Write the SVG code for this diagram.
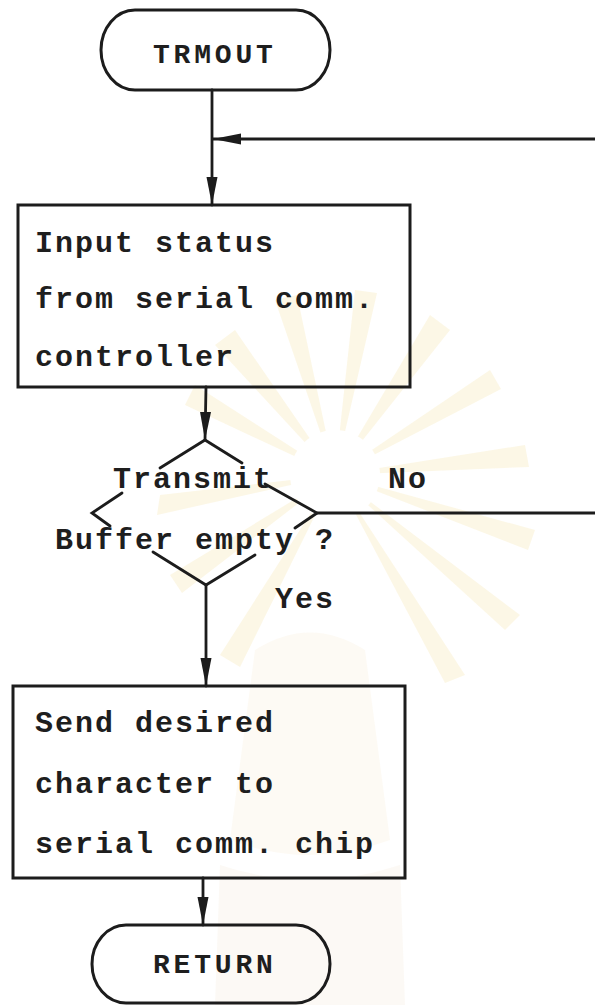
<svg xmlns="http://www.w3.org/2000/svg" width="595" height="1005" viewBox="0 0 595 1005">
  <defs>
    <style>
      .box { fill: none; stroke: #1c1c1c; stroke-width: 3; }
      .ln { fill: none; stroke: #1c1c1c; stroke-width: 2.8; stroke-linecap: round; }
      .txt { font-family: "Liberation Mono", "DejaVu Sans Mono", monospace; font-size: 30px; font-weight: bold; fill: #1e1e1e; letter-spacing: 2px; }
      .term { font-family: "Liberation Mono", "DejaVu Sans Mono", monospace; font-size: 28px; font-weight: bold; fill: #1e1e1e; letter-spacing: 3.8px; }
      .ray { fill: #f6e3a6; opacity: 0.28; }
    </style>
    <marker id="arrow" viewBox="0 0 28 12" refX="28" refY="6" markerWidth="28" markerHeight="12" markerUnits="userSpaceOnUse" orient="auto">
      <path d="M0,0.5 L28,6 L0,11.5 z" fill="#1c1c1c"/>
    </marker>
  </defs>

  <rect width="595" height="1005" fill="#ffffff"/>

  <!-- faint background seal -->
  <g id="seal">
    <g transform="translate(335,475)">
      <path class="ray" d="M0,0 L-150,-70 L-140,-90 z"/>
      <path class="ray" d="M0,0 L-120,-130 L-100,-145 z"/>
      <path class="ray" d="M0,0 L-60,-175 L-38,-180 z"/>
      <path class="ray" d="M0,0 L20,-185 L42,-182 z"/>
      <path class="ray" d="M0,0 L95,-160 L115,-145 z"/>
      <path class="ray" d="M0,0 L155,-105 L166,-86 z"/>
      <path class="ray" d="M0,0 L190,-30 L194,-8 z"/>
      <path class="ray" d="M0,0 L200,55 L193,75 z"/>
      <path class="ray" d="M0,0 L185,140 L170,155 z"/>
      <path class="ray" d="M0,0 L130,200 L110,208 z"/>
      <path class="ray" d="M0,0 L-175,20 L-178,40 z"/>
      <path class="ray" d="M0,0 L-165,100 L-153,118 z"/>
      <path class="ray" d="M0,0 L-115,180 L-95,192 z"/>
      <circle r="45" fill="#ffffff"/>
    </g>
    <path d="M255,650 Q310,615 365,650 L390,840 Q310,870 230,840 z" fill="#f4e6c0" opacity="0.18"/>
    <path d="M220,865 Q310,895 400,865 L405,1005 L215,1005 z" fill="#f1dcc8" opacity="0.18"/>
  </g>

  <!-- connectors -->
  <g id="connectors">
    <line class="ln" x1="212" y1="90" x2="212" y2="205" marker-end="url(#arrow)"/>
    <line class="ln" x1="595" y1="139" x2="213" y2="139" marker-end="url(#arrow)"/>
    <line class="ln" x1="206" y1="387" x2="205" y2="440" marker-end="url(#arrow)"/>
    <line class="ln" x1="206" y1="585" x2="206" y2="686" marker-end="url(#arrow)"/>
    <line class="ln" x1="317" y1="513" x2="595" y2="513"/>
    <line class="ln" x1="203" y1="878" x2="203" y2="925" marker-end="url(#arrow)"/>
  </g>

  <!-- start terminal -->
  <g id="trmout">
    <rect class="box" x="101" y="10" width="229" height="80" rx="34" ry="40"/>
    <text class="term" x="153" y="63">TRMOUT</text>
  </g>

  <!-- read status -->
  <g id="input-status">
    <rect class="box" x="18" y="205" width="392" height="182"/>
    <text class="txt" x="35" y="252">Input status</text>
    <text class="txt" x="35" y="308">from serial comm.</text>
    <text class="txt" x="35" y="366">controller</text>
  </g>

  <!-- decision: lines broken around the label -->
  <g id="buffer-empty">
    <polyline class="ln" points="160,468 205,440 242,463"/>
    <polyline class="ln" points="265,484 317,513 295,528"/>
    <polyline class="ln" points="122,493 92,513 110,526"/>
    <polyline class="ln" points="153,552 206,585 255,555"/>
    <text class="txt" x="113" y="488">Transmit</text>
    <text class="txt" x="55" y="549">Buffer empty ?</text>
    <text class="txt" x="388" y="488">No</text>
    <text class="txt" x="275" y="608">Yes</text>
  </g>

  <!-- send character -->
  <g id="send-char">
    <rect class="box" x="13" y="686" width="392" height="192"/>
    <text class="txt" x="35" y="732">Send desired</text>
    <text class="txt" x="35" y="793">character to</text>
    <text class="txt" x="35" y="853">serial comm. chip</text>
  </g>

  <!-- end terminal -->
  <g id="return">
    <rect class="box" x="92" y="925" width="238" height="78" rx="34" ry="39"/>
    <text class="term" x="153" y="973">RETURN</text>
  </g>
</svg>
